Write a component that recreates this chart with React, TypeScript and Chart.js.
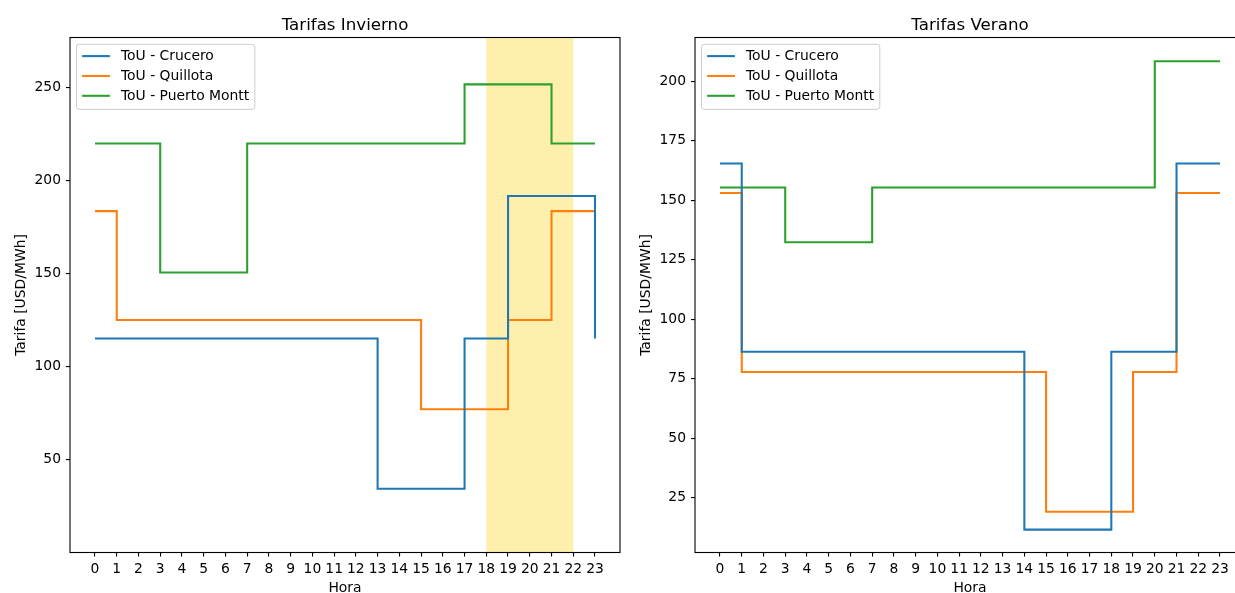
import React, { useEffect, useRef } from "react";
import { Chart, registerables } from "chart.js";

Chart.register(...registerables);

// ---------- data ----------
const hours = [0, 1, 2, 3, 4, 5, 6, 7, 8, 9, 10, 11, 12, 13, 14, 15, 16, 17, 18, 19, 20, 21, 22, 23];
const xTickValues = [0, 1, 2, 3, 4, 5, 6, 7, 8, 9, 10, 11, 12, 13, 14, 15, 16, 17, 18, 19, 20, 21, 22, 23];

const seriesLabels = ["ToU - Crucero", "ToU - Quillota", "ToU - Puerto Montt"];
const seriesColors = ["#1f77b4", "#ff7f0e", "#2ca02c"];

const inviernoCrucero = [115, 115, 115, 115, 115, 115, 115, 115, 115, 115, 115, 115, 115, 34.3, 34.3, 34.3, 34.3, 115, 115, 191.6, 191.6, 191.6, 191.6, 115];
const inviernoQuillota = [183.5, 125, 125, 125, 125, 125, 125, 125, 125, 125, 125, 125, 125, 125, 125, 77, 77, 77, 77, 125, 125, 183.5, 183.5, 183.5];
const inviernoPuertoMontt = [219.8, 219.8, 219.8, 150.5, 150.5, 150.5, 150.5, 219.8, 219.8, 219.8, 219.8, 219.8, 219.8, 219.8, 219.8, 219.8, 219.8, 251.6, 251.6, 251.6, 251.6, 219.8, 219.8, 219.8];

const veranoCrucero = [165.4, 86.3, 86.3, 86.3, 86.3, 86.3, 86.3, 86.3, 86.3, 86.3, 86.3, 86.3, 86.3, 86.3, 11.6, 11.6, 11.6, 11.6, 86.3, 86.3, 86.3, 165.4, 165.4, 165.4];
const veranoQuillota = [153, 77.8, 77.8, 77.8, 77.8, 77.8, 77.8, 77.8, 77.8, 77.8, 77.8, 77.8, 77.8, 77.8, 77.8, 19.1, 19.1, 19.1, 19.1, 77.8, 77.8, 153, 153, 153];
const veranoPuertoMontt = [155.3, 155.3, 155.3, 132.3, 132.3, 132.3, 132.3, 155.3, 155.3, 155.3, 155.3, 155.3, 155.3, 155.3, 155.3, 155.3, 155.3, 155.3, 155.3, 155.3, 208.3, 208.3, 208.3, 208.3];

const inviernoYTicks = [50, 100, 150, 200, 250];
const veranoYTicks = [25, 50, 75, 100, 125, 150, 175, 200];

const inviernoPeak = [18, 22];

const FONT = '"DejaVu Sans", sans-serif';
const FS = 13.89;

// ---------- plugins ----------
const bandPlugin = {
  id: "peakBand",
  beforeDatasetsDraw(chart: any, _args: any, opts: any) {
    if (!opts || !opts.range) return;
    const { ctx, chartArea } = chart;
    const xs = chart.scales.x;
    const x0 = xs.getPixelForValue(opts.range[0]);
    const x1 = xs.getPixelForValue(opts.range[1]);
    ctx.save();
    ctx.fillStyle = "rgba(255, 204, 0, 0.32)";
    ctx.fillRect(x0, chartArea.top, x1 - x0, chartArea.bottom - chartArea.top);
    ctx.restore();
  },
};

const framePlugin = {
  id: "frame",
  afterDatasetsDraw(chart: any) {
    const { ctx, chartArea } = chart;
    ctx.save();
    ctx.strokeStyle = "#000";
    ctx.lineWidth = 1.1;
    ctx.strokeRect(chartArea.left, chartArea.top, chartArea.right - chartArea.left, chartArea.bottom - chartArea.top);
    ctx.restore();
  },
};

const boxLegendPlugin = {
  id: "boxLegend",
  afterDraw(chart: any) {
    const { ctx, chartArea } = chart;
    const ds = chart.data.datasets;
    ctx.save();
    ctx.font = `${FS}px ${FONT}`;
    const maxW = Math.max(...ds.map((d: any) => ctx.measureText(d.label).width));
    const pad = 5.6;
    const handle = 27.8;
    const gap = 11.1;
    const bx = chartArea.left + 6.5;
    const by = chartArea.top + 6.8;
    const w = pad + handle + gap + maxW + pad;
    const rowPitch = 19.85;
    const h = 65;
    const r = 2.8;
    ctx.beginPath();
    ctx.moveTo(bx + r, by);
    ctx.lineTo(bx + w - r, by);
    ctx.quadraticCurveTo(bx + w, by, bx + w, by + r);
    ctx.lineTo(bx + w, by + h - r);
    ctx.quadraticCurveTo(bx + w, by + h, bx + w - r, by + h);
    ctx.lineTo(bx + r, by + h);
    ctx.quadraticCurveTo(bx, by + h, bx, by + h - r);
    ctx.lineTo(bx, by + r);
    ctx.quadraticCurveTo(bx, by, bx + r, by);
    ctx.closePath();
    ctx.fillStyle = "rgba(255,255,255,0.8)";
    ctx.fill();
    ctx.strokeStyle = "#cccccc";
    ctx.lineWidth = 1;
    ctx.stroke();
    ds.forEach((d: any, i: number) => {
      const cy = by + 11.8 + i * rowPitch;
      ctx.beginPath();
      ctx.moveTo(bx + pad, cy);
      ctx.lineTo(bx + pad + handle, cy);
      ctx.strokeStyle = d.borderColor;
      ctx.lineWidth = 2.08;
      ctx.stroke();
      ctx.fillStyle = "#000";
      ctx.textBaseline = "middle";
      ctx.textAlign = "left";
      ctx.fillText(d.label, bx + pad + handle + gap, cy + 0.5);
    });
    ctx.restore();
  },
};

// ---------- panel ----------
type PanelProps = {
  left: number;
  title: string;
  series: number[][];
  yTicks: number[];
  yMin: number;
  yMax: number;
  band: number[] | null;
};

function Panel({ left, title, series, yTicks, yMin, yMax, band }: PanelProps) {
  const ref = useRef<HTMLCanvasElement | null>(null);

  useEffect(() => {
    if (!ref.current) return;
    const chart = new Chart(ref.current, {
      type: "line",
      data: {
        datasets: series.map((vals, i) => ({
          label: seriesLabels[i],
          data: hours.map((h, j) => ({ x: h, y: vals[j] })),
          borderColor: seriesColors[i],
          backgroundColor: seriesColors[i],
          borderWidth: 2.08,
          pointRadius: 0,
          pointHoverRadius: 0,
          stepped: true,
          fill: false,
          borderJoinStyle: "miter",
          borderCapStyle: "butt",
        })),
      },
      options: {
        animation: false,
        responsive: false,
        devicePixelRatio: 1,
        events: [],
        layout: { padding: { left: 0, right: 20, top: 0, bottom: 0 } },
        plugins: {
          legend: { display: false },
          tooltip: { enabled: false },
          title: {
            display: true,
            text: title,
            fullSize: false,
            color: "#000",
            font: { family: FONT, size: 16.67, weight: "normal", lineHeight: 1.2 },
            padding: { top: 15.5, bottom: 2 },
          },
          peakBand: { range: band },
        } as any,
        scales: {
          x: {
            type: "linear",
            min: -1.15,
            max: 24.15,
            afterBuildTicks: (scale: any) => {
              scale.ticks = xTickValues.map((v) => ({ value: v }));
            },
            afterFit: (scale: any) => {
              scale.height = 40.5;
            },
            border: { display: false },
            grid: {
              drawOnChartArea: false,
              drawTicks: true,
              tickLength: 4,
              color: "#000",
              lineWidth: 1.1,
            },
            ticks: {
              color: "#000",
              font: { family: FONT, size: FS },
              padding: 4.5,
              maxRotation: 0,
              autoSkip: false,
              callback: (v: any) => String(v),
            },
            title: {
              display: true,
              text: "Hora",
              color: "#000",
              font: { family: FONT, size: FS, lineHeight: 1.2 },
              padding: { top: 0, bottom: -4 },
            },
          },
          y: {
            type: "linear",
            min: yMin,
            max: yMax,
            afterBuildTicks: (scale: any) => {
              scale.ticks = yTicks.map((v) => ({ value: v }));
            },
            afterFit: (scale: any) => {
              scale.width = 70;
            },
            border: { display: false },
            grid: {
              drawOnChartArea: false,
              drawTicks: true,
              tickLength: 4,
              color: "#000",
              lineWidth: 1.1,
            },
            ticks: {
              color: "#000",
              font: { family: FONT, size: FS },
              padding: 5,
              autoSkip: false,
              callback: (v: any) => String(v),
            },
            title: {
              display: true,
              text: "Tarifa [USD/MWh]",
              color: "#000",
              font: { family: FONT, size: FS, lineHeight: 1.2 },
              padding: { top: 12.7, bottom: 0 },
            },
          },
        },
      } as any,
      plugins: [bandPlugin, framePlugin, boxLegendPlugin],
    });
    return () => chart.destroy();
  }, []);

  return (
    <canvas
      ref={ref}
      width={640}
      height={593}
      style={{ position: "absolute", left, top: 0, width: 640, height: 593 }}
    />
  );
}

export default function App() {
  useEffect(() => {
    document.body.style.margin = "0";
    document.body.style.background = "#fff";
  }, []);
  return (
    <div
      style={{
        position: "absolute",
        left: 0,
        top: 0,
        width: 1235,
        height: 593,
        overflow: "hidden",
        background: "#fff",
      }}
    >
      <Panel
        left={0}
        title="Tarifas Invierno"
        series={[inviernoCrucero, inviernoQuillota, inviernoPuertoMontt]}
        yTicks={inviernoYTicks}
        yMin={0}
        yMax={276.8}
        band={inviernoPeak}
      />
      <Panel
        left={625}
        title="Tarifas Verano"
        series={[veranoCrucero, veranoQuillota, veranoPuertoMontt]}
        yTicks={veranoYTicks}
        yMin={2.0}
        yMax={218.3}
        band={null}
      />
    </div>
  );
}
